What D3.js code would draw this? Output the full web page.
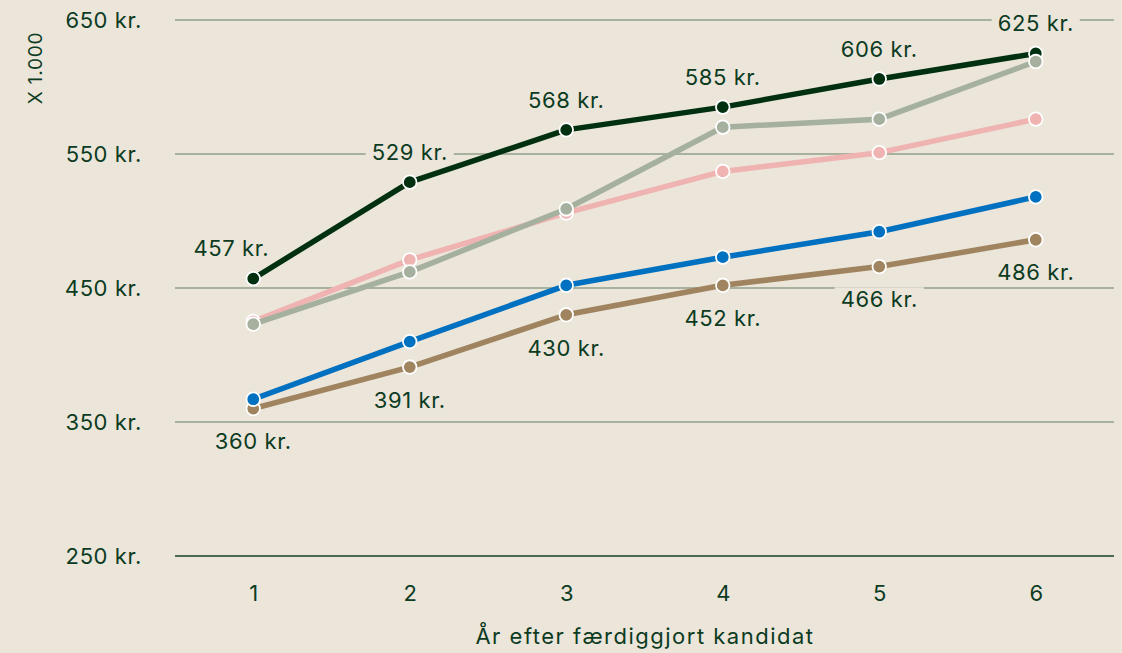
<!DOCTYPE html>
<html>
<head>
<meta charset="utf-8">
<script src="https://cdn.jsdelivr.net/npm/d3@7"></script>
<style>
  html, body { margin: 0; padding: 0; background: #ebe5da; }
  svg { display: block; font-family: "Inter", "Noto Sans", sans-serif; }
</style>
</head>
<body>
<svg id="chart" width="1122" height="653"></svg>
<script>
// Years after graduation
const years = [1, 2, 3, 4, 5, 6];

// Annual salary, thousands of kroner
const seriesTop    = [457, 529, 568, 585, 606, 625];
const seriesGrey   = [423, 462, 509, 570, 576, 619];
const seriesPink   = [425, 471, 506, 537, 551, 576];
const seriesBlue   = [367, 410, 452, 473, 492, 518];
const seriesBrown  = [360, 391, 430, 452, 466, 486];

const yTicks = [250, 350, 450, 550, 650];
const yTickFormat = v => `${v} kr.`;
const xTitle = "År efter færdiggjort kandidat";
const yTitle = "X 1.000";

const bg = "#ebe5da";
const ink = "#0c3b1f";
const fontSize = 22;
const numSpacing = 0.6;

const svg = d3.select("#chart");

const x = d3.scalePoint().domain(years).range([175, 1114]).padding(0.5);
const y = d3.scaleLinear().domain([250, 650]).range([556, 20]);

// Horizontal grid lines; the baseline is drawn darker
const grid = svg.append("g");
grid.selectAll("line").data(yTicks).join("line")
  .attr("x1", 175).attr("x2", 1114)
  .attr("y1", d => y(d)).attr("y2", d => y(d))
  .attr("stroke", d => d === 250 ? "#173f26" : "#8fa08a")
  .attr("stroke-width", 1.6);

// Y axis labels
const yAxis = svg.append("g").attr("transform", "translate(142,0)")
  .call(d3.axisLeft(y).tickValues(yTicks).tickFormat(yTickFormat).tickSize(0).tickPadding(0));
yAxis.select(".domain").remove();
yAxis.selectAll("text").attr("font-size", fontSize).attr("fill", ink)
  .attr("letter-spacing", numSpacing)
  .attr("font-family", "Inter, 'Noto Sans', sans-serif");

// X axis labels
const xAxis = svg.append("g").attr("transform", "translate(0,593)")
  .call(d3.axisBottom(x).tickSize(0).tickPadding(0));
xAxis.select(".domain").remove();
xAxis.selectAll("text").attr("font-size", fontSize).attr("fill", ink)
  .attr("dy", "0.35em")
  .attr("font-family", "Inter, 'Noto Sans', sans-serif");

svg.append("text")
  .attr("x", 645).attr("y", 636)
  .attr("dy", "0.35em").attr("text-anchor", "middle")
  .attr("font-size", fontSize).attr("letter-spacing", 1.5)
  .attr("fill", ink).text(xTitle);

svg.append("text")
  .attr("transform", "translate(35,68) rotate(-90)")
  .attr("dy", "0.35em").attr("text-anchor", "middle")
  .attr("font-size", 19).attr("letter-spacing", 0.8)
  .attr("fill", ink).text(yTitle);

// Lines and markers, drawn bottom to top
const series = [
  { values: seriesBrown, color: "#a0845f" },
  { values: seriesBlue,  color: "#0070c0" },
  { values: seriesPink,  color: "#efb3b2" },
  { values: seriesTop,   color: "#00300f" },
  { values: seriesGrey,  color: "#a5b09e" }
];

const line = d3.line().x((d, i) => x(years[i])).y(d => y(d));

series.forEach(s => {
  const g = svg.append("g");
  g.append("path").datum(s.values)
    .attr("d", line).attr("fill", "none")
    .attr("stroke", s.color).attr("stroke-width", 5.5)
    .attr("stroke-linejoin", "round");
  g.selectAll("circle").data(s.values).join("circle")
    .attr("cx", (d, i) => x(years[i])).attr("cy", d => y(d))
    .attr("r", 6.8).attr("fill", s.color)
    .attr("stroke", "#ffffff").attr("stroke-width", 1.8);
});

// Value labels with a background knock-out
function valueLabels(values, offset, shiftFirst) {
  const g = svg.append("g");
  values.forEach((v, i) => {
    const lg = g.append("g")
      .attr("transform", `translate(${x(years[i]) + (i === 0 ? shiftFirst : 0)},${y(v) + offset})`);
    const rect = lg.append("rect").attr("fill", bg);
    const t = lg.append("text")
      .attr("text-anchor", "middle").attr("dy", "0.35em")
      .attr("font-size", fontSize).attr("letter-spacing", numSpacing)
      .attr("fill", ink)
      .text(yTickFormat(v));
    const b = t.node().getBBox();
    rect.attr("x", b.x - 6).attr("y", b.y + 1).attr("width", b.width + 12).attr("height", b.height - 2);
  });
}
valueLabels(seriesTop, -30, -22);
valueLabels(seriesBrown, 33, 0);
</script>
</body>
</html>
